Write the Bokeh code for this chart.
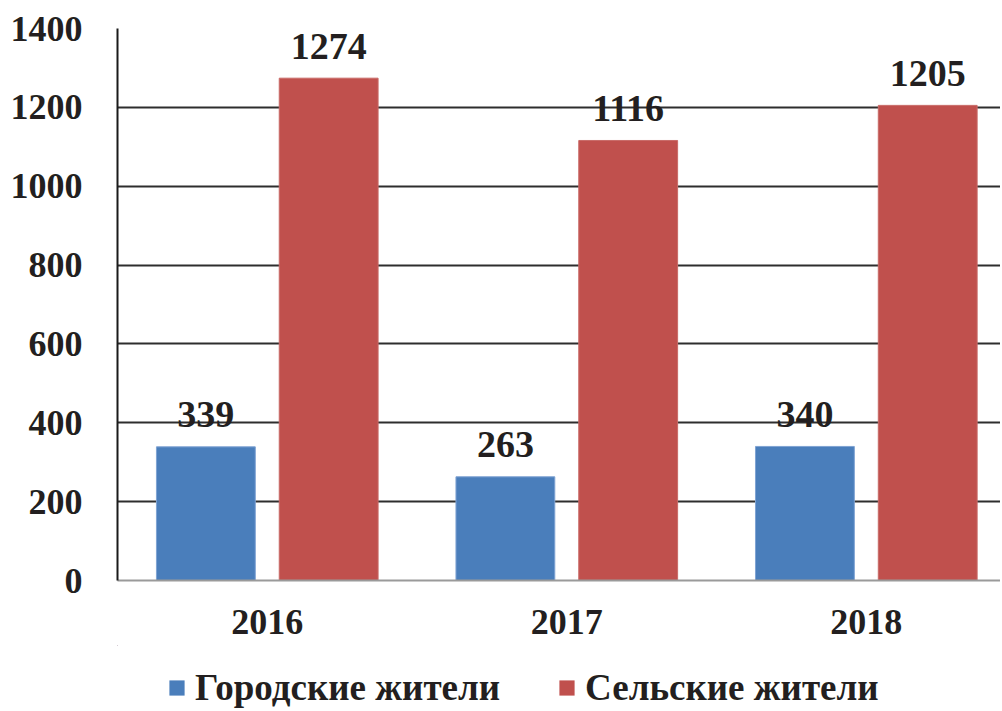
from bokeh.plotting import figure
from bokeh.layouts import column
from bokeh.models import Range1d, FixedTicker, Legend, LegendItem, ColumnDataSource
from bokeh.transform import dodge
from bokeh.core.properties import value
from bokeh.embed import file_html
from bokeh.resources import INLINE

years = ["2016", "2017", "2018"]
urban = [339, 263, 340]
rural = [1274, 1116, 1205]
y_ticks = [0, 200, 400, 600, 800, 1000, 1200, 1400]
series_names = ["Городские жители", "Сельские жители"]

FONT = "Liberation Serif"
TXT = "#231F20"
BLUE = "#4A7EBB"
RED = "#C0504D"

xs = [i + 0.5 for i in range(len(years))]
src = ColumnDataSource(dict(
    x=xs, year=years, urban=urban, rural=rural,
    urban_lbl=[str(v) for v in urban], rural_lbl=[str(v) for v in rural],
))

p = figure(width=1000, height=645, output_backend="svg", toolbar_location=None,
           x_range=Range1d(0, 2.948), y_range=Range1d(0, 1400),
           min_border_left=117, min_border_right=0, min_border_top=28, min_border_bottom=65)
p.outline_line_color = None
p.background_fill_color = "white"
p.border_fill_color = "white"

off = 0.205
w = 0.33
p.vbar(x=dodge("x", -off, range=p.x_range), top="urban", width=w, source=src,
       fill_color=BLUE, line_color="#7FA3D3", line_width=1)
p.vbar(x=dodge("x", off, range=p.x_range), top="rural", width=w, source=src,
       fill_color=RED, line_color="#C96A67", line_width=1)

for col, lbl, d in (("urban", "urban_lbl", -off), ("rural", "rural_lbl", off)):
    p.text(x=dodge("x", d, range=p.x_range), y=col, text=lbl, source=src,
           text_font=value(FONT), text_font_style="bold", text_font_size="38px",
           text_color=TXT, text_align="center", text_baseline="alphabetic", y_offset=-32)

# axes
p.xaxis.ticker = FixedTicker(ticks=xs)
p.xaxis.major_label_overrides = {x: y for x, y in zip(xs, years)}
p.xaxis.major_tick_line_color = None
p.xaxis.minor_tick_line_color = None
p.xaxis.axis_line_color = "#9A9A9A"
p.xaxis.axis_line_width = 2
p.xaxis.major_label_standoff = 23
p.yaxis.ticker = FixedTicker(ticks=y_ticks)
p.yaxis.major_tick_line_color = None
p.yaxis.minor_tick_line_color = None
p.yaxis.axis_line_color = "#1A1A1A"
p.yaxis.axis_line_width = 2
p.yaxis.major_label_standoff = 29
for ax in (p.xaxis, p.yaxis):
    ax.major_label_text_font = FONT
    ax.major_label_text_font_style = "bold"
    ax.major_label_text_font_size = "36px"
    ax.major_label_text_color = TXT

p.xgrid.grid_line_color = None
p.ygrid.ticker = FixedTicker(ticks=y_ticks[1:])
p.ygrid.grid_line_color = "#2E2E2E"
p.ygrid.grid_line_width = 2

# legend strip below the chart (its bars lie outside its visible range)
lf = figure(width=1000, height=64, output_backend="svg", toolbar_location=None,
            x_axis_type=None, y_axis_type=None, x_range=Range1d(10, 11), y_range=Range1d(-2, -1),
            min_border_left=117, min_border_right=0, min_border_top=0, min_border_bottom=0)
lf.outline_line_color = None
lf.xgrid.visible = False
lf.ygrid.visible = False
g_u = lf.vbar(x="x", top="urban", width=0.1, source=src, fill_color=BLUE, line_color=None)
g_r = lf.vbar(x="x", top="rural", width=0.1, source=src, fill_color=RED, line_color=None)

legend = Legend(items=[LegendItem(label=series_names[0], renderers=[g_u]),
                       LegendItem(label=series_names[1], renderers=[g_r])],
                location=(50, 0), orientation="horizontal",
                label_text_font=FONT, label_text_font_style="bold",
                label_text_font_size="37px", label_text_color=TXT,
                glyph_width=19, glyph_height=19, label_standoff=9, spacing=57,
                padding=0, margin=0, border_line_color=None, background_fill_alpha=0)
lf.add_layout(legend, "center")

open("out.html", "w").write(file_html(column(p, lf, spacing=0), INLINE))
